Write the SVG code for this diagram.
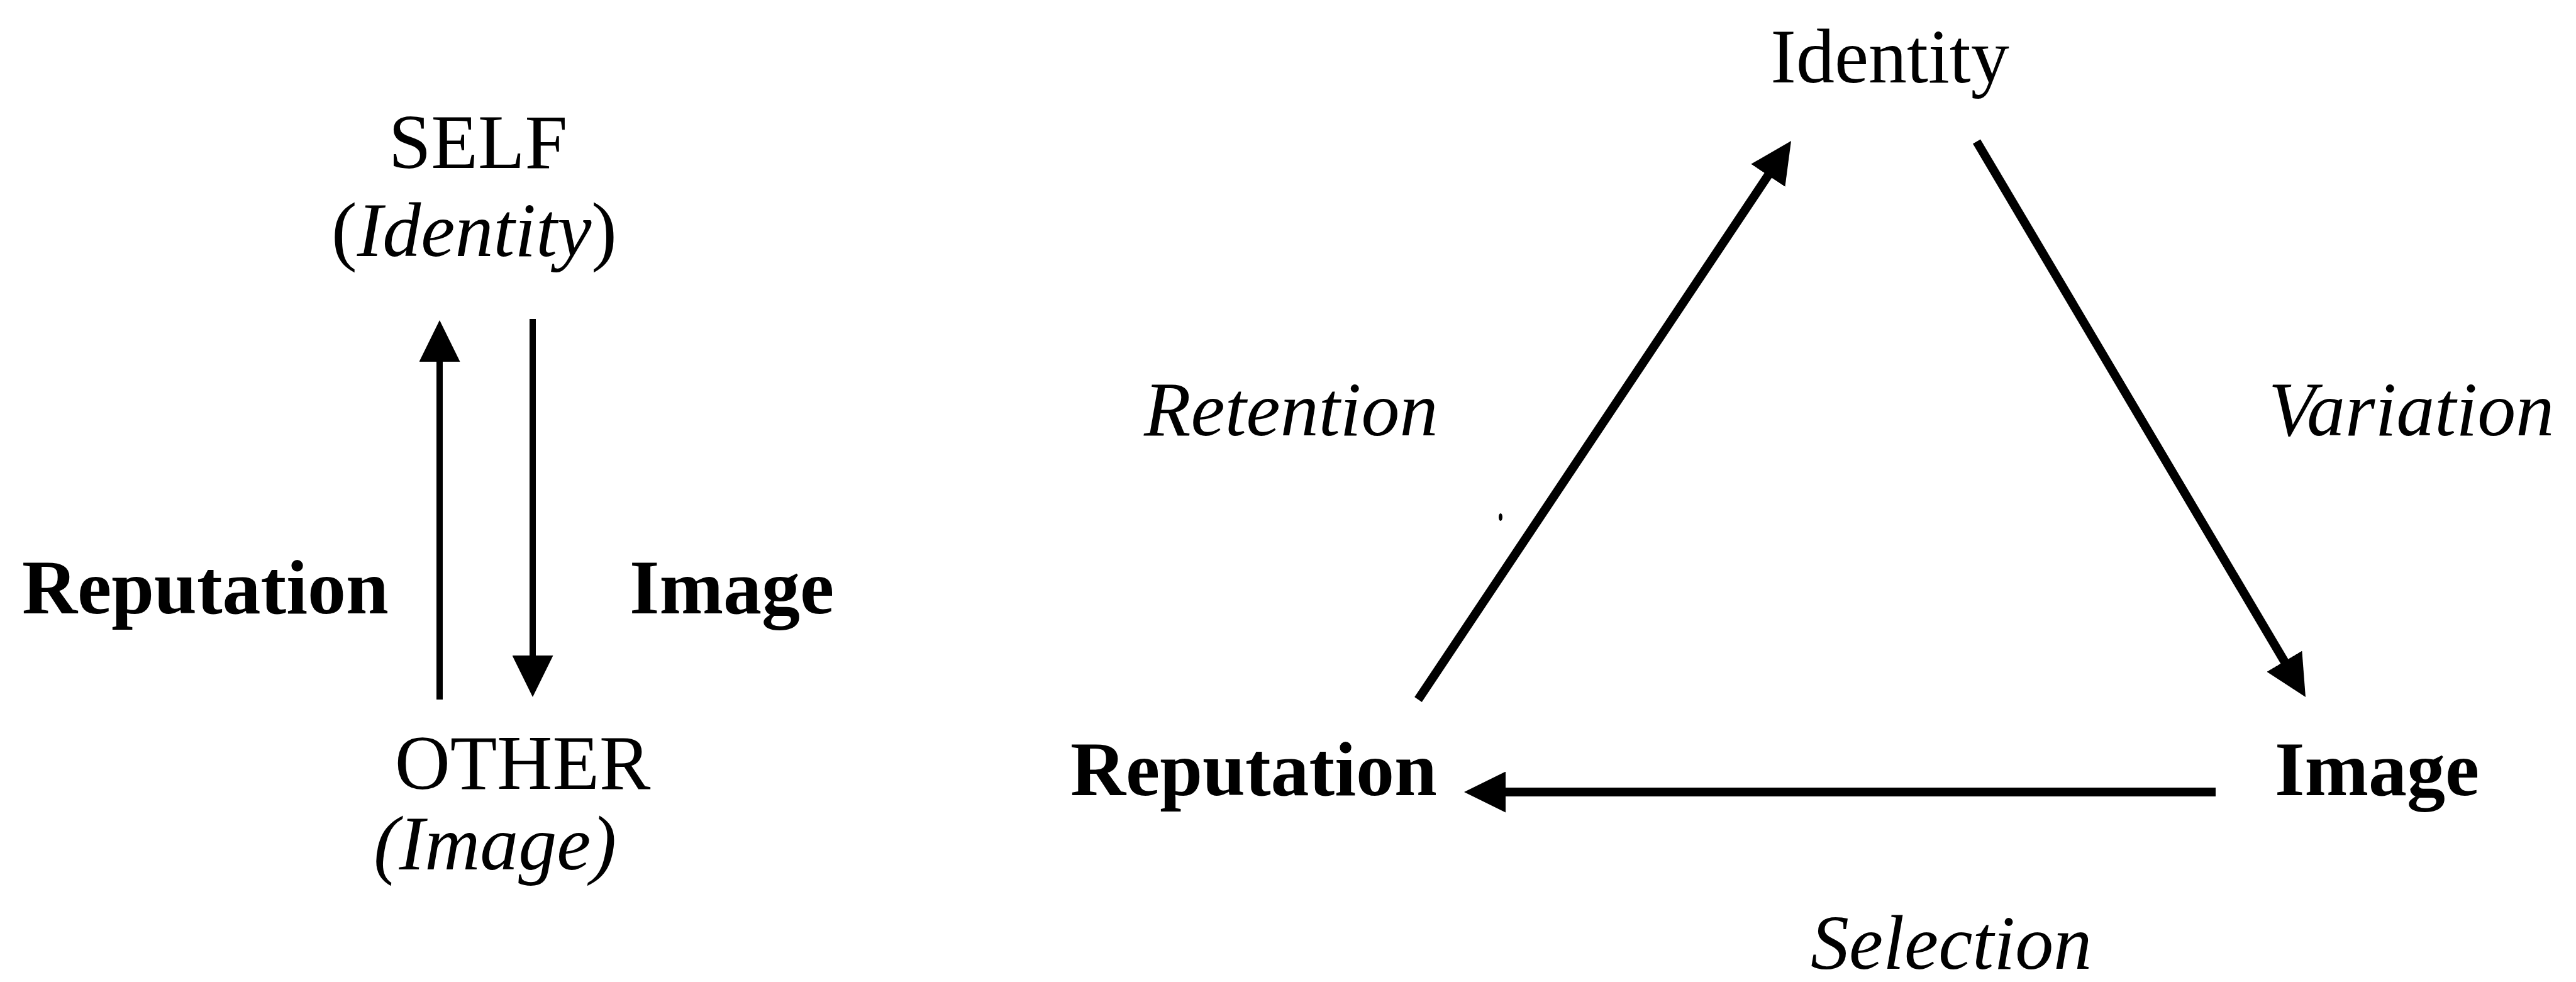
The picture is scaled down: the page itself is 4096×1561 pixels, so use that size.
<svg xmlns="http://www.w3.org/2000/svg" width="4096" height="1561" viewBox="0 0 4096 1561">
  <style>
    text { font-family: "Liberation Serif", "Times New Roman", serif; font-size: 122px; fill: #000; }
    .b { font-weight: bold; }
    .i { font-style: italic; }
    .mid { text-anchor: middle; }
    .thin { stroke: #000; stroke-width: 10; fill: none; }
    .thick { stroke: #000; stroke-width: 14; fill: none; }
  </style>
  <defs>
    <marker id="head" viewBox="0 0 66 65" refX="26" refY="32.5" markerWidth="66" markerHeight="65" markerUnits="userSpaceOnUse" orient="auto">
      <path d="M0,0 L66,32.5 L0,65 z" fill="#000"/>
    </marker>
  </defs>
  <rect width="4096" height="1561" fill="#fff"/>

  <g id="connectors">
    <line class="thin" x1="699" y1="1112" x2="699" y2="549" marker-end="url(#head)"/>
    <line class="thin" x1="847" y1="507" x2="847" y2="1068" marker-end="url(#head)"/>
    <line class="thick" x1="2255" y1="1112" x2="2825.8" y2="257.2" marker-end="url(#head)"/>
    <line class="thick" x1="3143" y1="225" x2="3645.6" y2="1073.6" marker-end="url(#head)"/>
    <line class="thick" x1="3523" y1="1259" x2="2368" y2="1259" marker-end="url(#head)"/>
  </g>

  <g id="left-self">
    <text class="mid" x="760" y="267">SELF</text>
    <text class="mid" x="754" y="407">(<tspan class="i">Identity</tspan>)</text>
  </g>
  <g id="left-other">
    <text class="mid" x="831" y="1254">OTHER</text>
    <text class="mid i" x="787" y="1382">(Image)</text>
  </g>
  <g id="left-labels">
    <text class="b" x="35" y="975">Reputation</text>
    <text class="b" x="1001" y="975">Image</text>
  </g>

  <g id="right-identity">
    <text class="mid" x="3005" y="131">Identity</text>
  </g>
  <g id="right-reputation">
    <text class="b" x="1702" y="1264">Reputation</text>
  </g>
  <g id="right-image">
    <text class="b" x="3617" y="1264">Image</text>
  </g>
  <g id="right-labels">
    <text class="i" x="1819" y="692">Retention</text>
    <text class="i" x="3607" y="692">Variation</text>
    <text class="i" x="2879" y="1540">Selection</text>
  </g>
  <ellipse cx="2386" cy="822" rx="3" ry="6" fill="#000"/>
</svg>
